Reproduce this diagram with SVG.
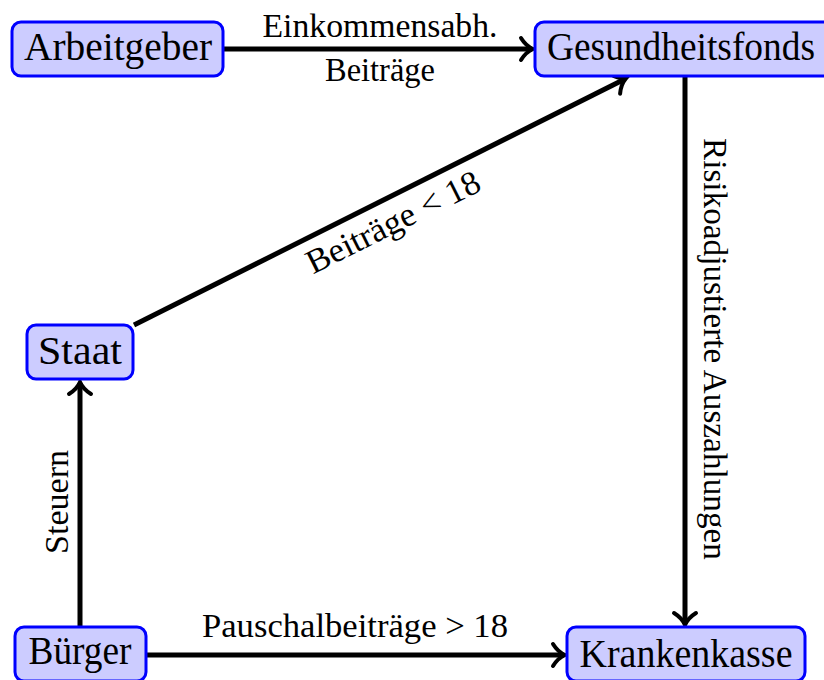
<svg xmlns="http://www.w3.org/2000/svg" width="824" height="680" viewBox="0 0 824 680">
<style>
.box{fill:#ccccff;stroke:#0000ff;stroke-width:3}
.nt{font-family:"Liberation Serif",serif;font-size:41px;fill:#000}
.et{font-family:"Liberation Serif",serif;font-size:34px;fill:#000}
.edge{stroke:#000;stroke-width:5;fill:none}
</style>
<defs>
<marker id="arr" markerUnits="userSpaceOnUse" orient="auto" refX="0" refY="0" overflow="visible">
<path d="M-11,-11 C-7,-4.5 -2.5,-1.5 1,0 C-2.5,1.5 -7,4.5 -11,11" fill="none" stroke="#000" stroke-width="4" stroke-linecap="round"/>
</marker>
</defs>
<rect width="824" height="680" fill="#fff"/>
<g id="connectors">
<line class="edge" x1="224" y1="49" x2="532" y2="49" marker-end="url(#arr)"/>
<line class="edge" x1="134" y1="325" x2="625" y2="79" marker-end="url(#arr)"/>
<line class="edge" x1="685" y1="77" x2="685" y2="624" marker-end="url(#arr)"/>
<line class="edge" x1="80" y1="627" x2="80" y2="383" marker-end="url(#arr)"/>
<line class="edge" x1="146" y1="655" x2="564" y2="655" marker-end="url(#arr)"/>
<text class="et" x="380" y="37" text-anchor="middle" textLength="235" lengthAdjust="spacingAndGlyphs">Einkommensabh.</text>
<text class="et" x="380" y="81" text-anchor="middle" textLength="110" lengthAdjust="spacingAndGlyphs">Beiträge</text>
<text class="et" x="355" y="637" text-anchor="middle" textLength="306" lengthAdjust="spacingAndGlyphs">Pauschalbeiträge &gt; 18</text>
<text class="et" transform="translate(398,232) rotate(-26.5)" text-anchor="middle" textLength="190" lengthAdjust="spacingAndGlyphs">Beiträge &lt; 18</text>
<text class="et" transform="translate(68,502) rotate(-90)" text-anchor="middle" textLength="104" lengthAdjust="spacingAndGlyphs">Steuern</text>
<text class="et" transform="translate(704,349) rotate(90)" text-anchor="middle" textLength="422" lengthAdjust="spacingAndGlyphs">Risikoadjustierte Auszahlungen</text>
</g>
<g id="arbeitgeber">
<rect class="box" x="12" y="22" width="211" height="54" rx="9"/>
<text class="nt" x="118" y="60" text-anchor="middle" textLength="188" lengthAdjust="spacingAndGlyphs">Arbeitgeber</text>
</g>
<g id="gesundheitsfonds">
<rect class="box" x="535" y="22" width="300" height="54" rx="9"/>
<text class="nt" x="547" y="60" textLength="268" lengthAdjust="spacingAndGlyphs">Gesundheitsfonds</text>
</g>
<g id="staat">
<rect class="box" x="27" y="325" width="106" height="54" rx="9"/>
<text class="nt" x="80" y="364" text-anchor="middle" textLength="84" lengthAdjust="spacingAndGlyphs">Staat</text>
</g>
<g id="buerger">
<rect class="box" x="15" y="627" width="131" height="54" rx="9"/>
<text class="nt" x="80" y="664" text-anchor="middle" textLength="103" lengthAdjust="spacingAndGlyphs">Bürger</text>
</g>
<g id="krankenkasse">
<rect class="box" x="567" y="627" width="238" height="54" rx="9"/>
<text class="nt" x="686" y="667" text-anchor="middle" textLength="213" lengthAdjust="spacingAndGlyphs">Krankenkasse</text>
</g>
</svg>
